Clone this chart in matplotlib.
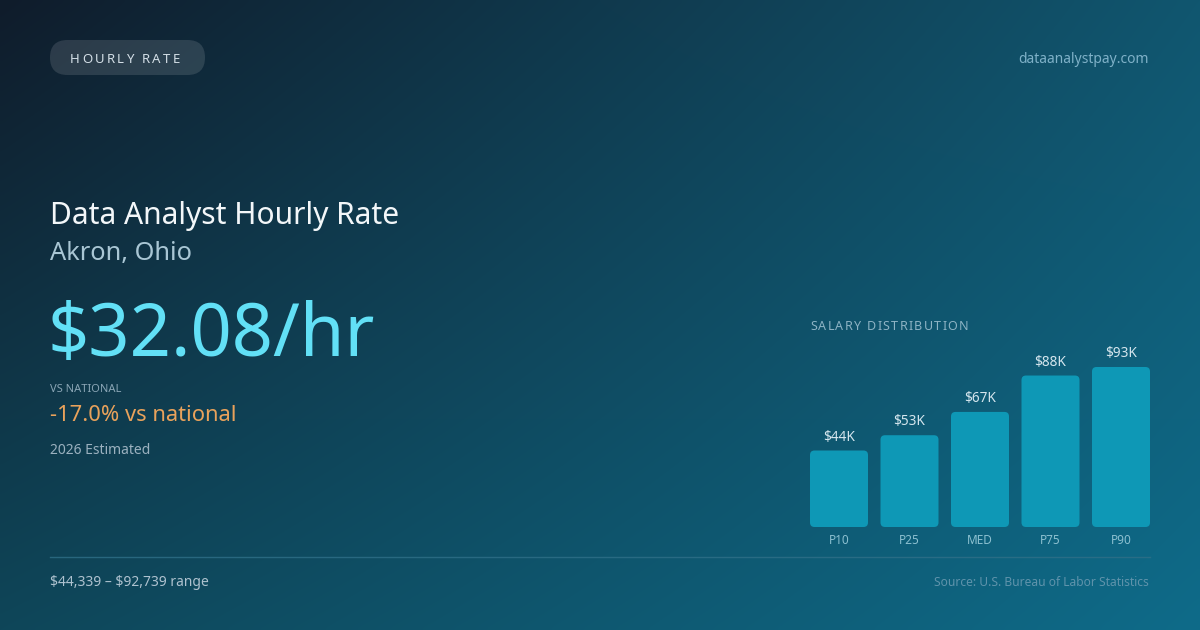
import numpy as np
import matplotlib
matplotlib.use("Agg")
import matplotlib.pyplot as plt
from matplotlib.patches import FancyBboxPatch
from matplotlib.colors import to_rgb

plt.rcParams['font.family'] = ['Noto Sans', 'DejaVu Sans']

# data
percentiles = ["P10", "P25", "MED", "P75", "P90"]
salaries = [44339, 53200, 66700, 87800, 92739]
hourly_rate = r"\$32.08/hr"
vs_national = "-17.0% vs national"
range_text = "\\$44,339 \u2013 \\$92,739 range"

W, H = 1200, 630
fig = plt.figure(figsize=(12, 6.3), dpi=100)

# background: four-corner gradient
bg = fig.add_axes([0, 0, 1, 1])
bg.set_xlim(0, W)
bg.set_ylim(H, 0)
bg.axis("off")
tl, tr = np.array(to_rgb("#0f1c2b")), np.array(to_rgb("#11566f"))
bl, br = np.array(to_rgb("#0f4659")), np.array(to_rgb("#0e6b89"))
u = np.linspace(0, 1, 300)[None, :, None]
v = np.linspace(0, 1, 160)[:, None, None]
grad = (1 - v) * ((1 - u) * tl + u * tr) + v * ((1 - u) * bl + u * br)
bg.imshow(grad, extent=[0, W, H, 0], aspect="auto", interpolation="bicubic", zorder=0)

renderer = fig.canvas.get_renderer()


def spaced(ax, x, y, s, gap, **kw):
    # draw text with extra letter spacing, one char at a time
    for ch in s:
        t = ax.text(x, y, ch, **kw)
        w = t.get_window_extent(renderer).width
        if ch == " ":
            w = t.get_fontsize() * 100 / 72 * 0.26
        x += w + gap


# pill
pill = FancyBboxPatch((50, 40), 155, 35, boxstyle="round,pad=0,rounding_size=17.5",
                      fc="white", alpha=0.12, ec="none", zorder=2)
bg.add_patch(pill)
spaced(bg, 70, 63, "HOURLY RATE", 2.3, fontsize=9.5, color="#d3dee6", va="baseline", zorder=3)

bg.text(1149, 63, "dataanalystpay.com", fontsize=10, color="#7fb1c8", ha="right", va="baseline")

bg.text(50, 224, "Data Analyst Hourly Rate", fontsize=21.6, color="#f3f7f9", va="baseline")
bg.text(50, 260, "Akron, Ohio", fontsize=18.3, color="#a9c6d4", va="baseline")
bg.text(48, 356, hourly_rate, fontsize=52, color="#62e0f6", va="baseline")
bg.text(50, 392, "VS NATIONAL", fontsize=8, color="#8aa5b5", va="baseline")
bg.text(50, 421, vs_national, fontsize=15.8, color="#e9a25b", va="baseline")
bg.text(50, 454, "2026 Estimated", fontsize=10, color="#9bb1bf", va="baseline")

bg.plot([50, 1150], [556.5, 556.5], color="#2f7088", lw=1, alpha=0.8)
bg.text(50, 586, range_text, fontsize=10, color="#aec2cf", va="baseline")
bg.text(1149, 586, "Source: U.S. Bureau of Labor Statistics", fontsize=8.65, color="#5f93ab",
        ha="right", va="baseline")

spaced(bg, 810, 330, "SALARY DISTRIBUTION", 1.3, fontsize=9, color="#8db3c4", va="baseline")

# bar chart
x0, x1, ybot, ytop = 810, 1150, 527, 367
ax = fig.add_axes([x0 / W, (H - ybot) / H, (x1 - x0) / W, (ybot - ytop) / H])
ax.patch.set_alpha(0)
n = len(salaries)
step = (x1 - x0) / (n - 1 + 58 / 70.5)
width = 58 / step
ax.set_xlim(-width / 2, n - 1 + width / 2)
ax.set_ylim(0, max(salaries))
bars = ax.bar(range(n), salaries, width=width, color="#0e98b6")
xunit = step
yunit = (ybot - ytop) / max(salaries)
r = 4.5
for b in bars:
    b.set_visible(False)
    p = FancyBboxPatch((b.get_x(), b.get_y()), b.get_width(), b.get_height(),
                       boxstyle=f"round,pad=0,rounding_size={r / xunit}",
                       mutation_aspect=xunit / yunit, fc="#0e98b6", ec="none", clip_on=False)
    ax.add_patch(p)
for i, s in enumerate(salaries):
    ax.annotate(f"\\${s / 1000:.0f}K", (i, s), xytext=(0, 6), textcoords="offset pixels",
                ha="center", va="bottom", fontsize=9.8, color="#d5e6ee")
ax.set_xticks(range(n))
ax.set_xticklabels(percentiles, fontsize=8.5, color="#8cc0d0")
ax.tick_params(axis="x", length=0, pad=5)
ax.set_yticks([])
for sp in ax.spines.values():
    sp.set_visible(False)

fig.savefig("out.png", dpi=100)
